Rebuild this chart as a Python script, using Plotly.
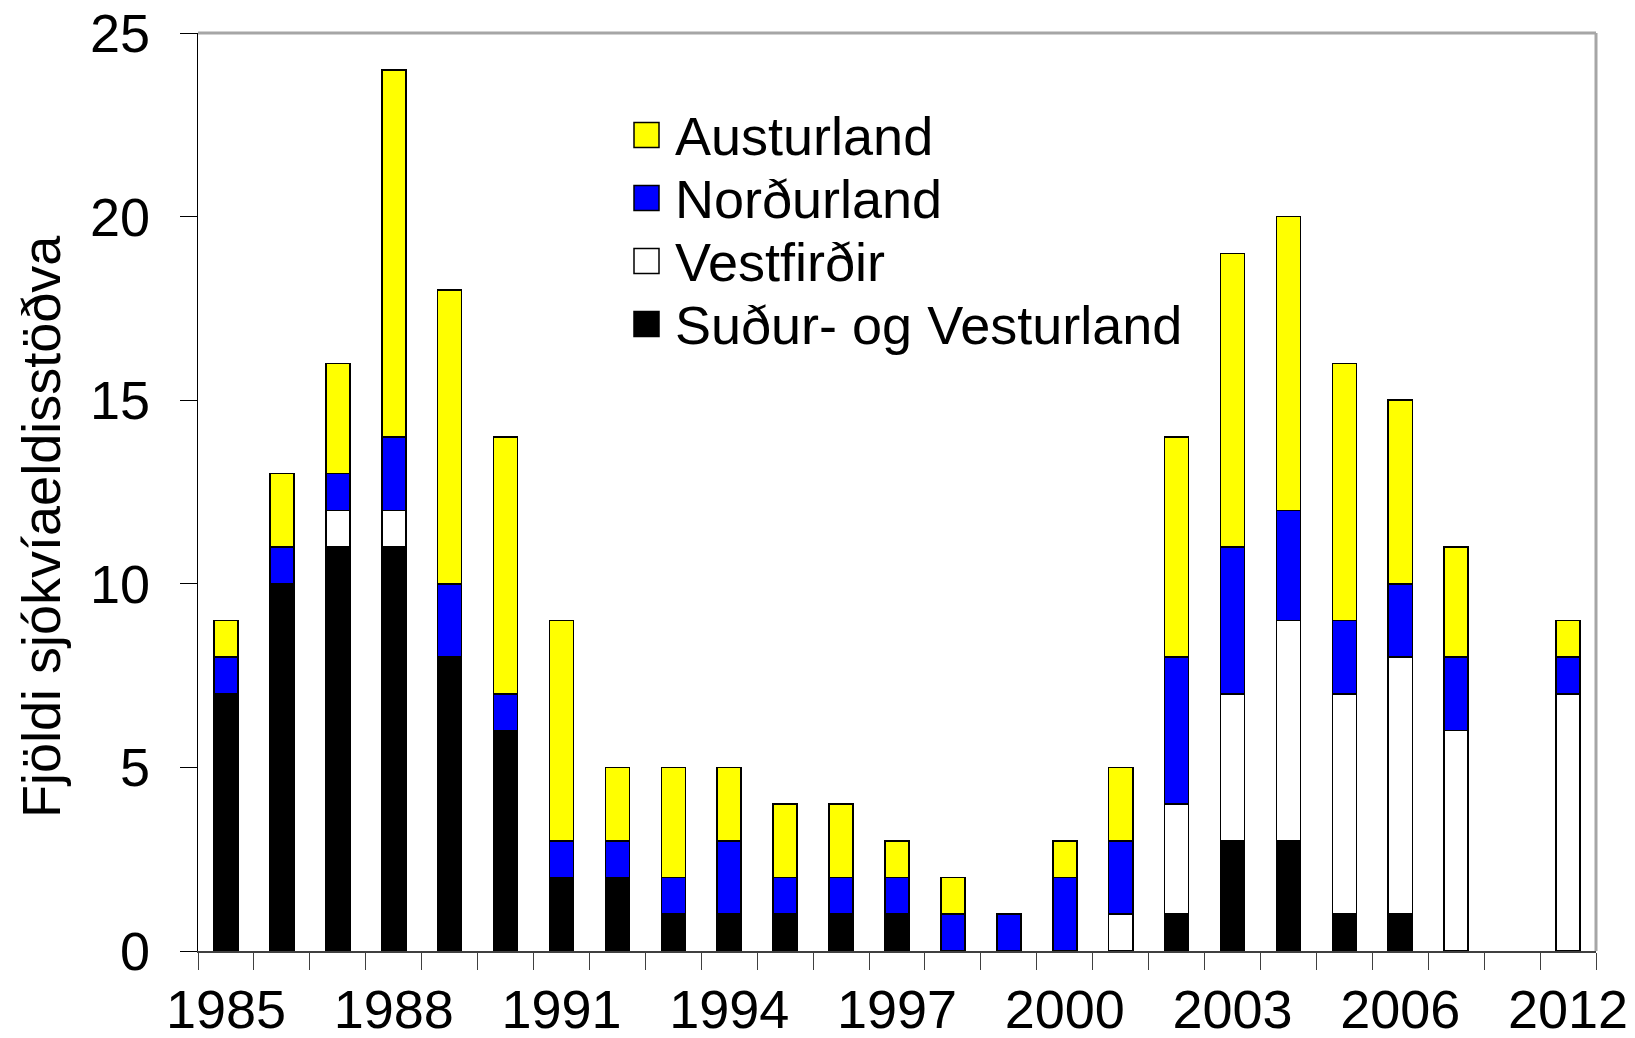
import plotly.graph_objects as go

years = ["1985", "1986", "1987", "1988", "1989", "1990", "1991", "1992", "1993",
         "1994", "1995", "1996", "1997", "1998", "1999", "2000", "2001", "2002",
         "2003", "2004", "2005", "2006", "2007", "2008", "2012"]
label_years = ["1985", "1988", "1991", "1994", "1997", "2000", "2003", "2006", "2012"]

sudur_vesturland = [7, 10, 11, 11, 8, 6, 2, 2, 1, 1, 1, 1, 1, 0, 0, 0, 0, 1, 3, 3, 1, 1, 0, 0, 0]
vestfirdir       = [0, 0, 1, 1, 0, 0, 0, 0, 0, 0, 0, 0, 0, 0, 0, 0, 1, 3, 4, 6, 6, 7, 6, 0, 7]
nordurland       = [1, 1, 1, 2, 2, 1, 1, 1, 1, 2, 1, 1, 1, 1, 1, 2, 2, 4, 4, 3, 2, 2, 2, 0, 1]
austurland       = [1, 2, 3, 10, 8, 7, 6, 2, 3, 2, 2, 2, 1, 1, 0, 1, 2, 6, 8, 8, 7, 5, 3, 0, 1]

series = [
    ("Suður- og Vesturland", sudur_vesturland, "#000000"),
    ("Vestfirðir", vestfirdir, "#ffffff"),
    ("Norðurland", nordurland, "#0000ff"),
    ("Austurland", austurland, "#ffff00"),
]

FONT = "Liberation Sans, Arial, sans-serif"
W, H = 1635, 1038
ML, MR, MT, MB = 198, 39, 33, 87
PW, PH = W - ML - MR, H - MT - MB


def px(xp, yp):
    """Pixel position on the page -> paper coordinates."""
    return (xp - ML) / PW, (H - MB - yp) / PH


pos = list(range(len(years)))

fig = go.Figure()
for name, vals, color in series:
    fig.add_trace(go.Bar(
        x=pos,
        y=[v if v else None for v in vals],
        name=name,
        showlegend=False,
        marker=dict(color=color, line=dict(color="#000000", width=1.6)),
        customdata=years,
        hovertemplate="%{customdata}: %{y}<extra>" + name + "</extra>",
    ))

tickvals = [years.index(y) for y in label_years]

shapes = [
    dict(type="line", xref="x domain", yref="y domain", x0=0, x1=1, y0=1, y1=1,
         line=dict(color="#a6a6a6", width=3)),
    dict(type="line", xref="x domain", yref="y domain", x0=1, x1=1, y0=0, y1=1,
         line=dict(color="#a6a6a6", width=3)),
]
annotations = [dict(
    text="Fjöldi sjókvíaeldisstöðva",
    xref="paper", yref="paper",
    x=px(41, 0)[0], y=px(0, 527)[1],
    xanchor="center", yanchor="middle",
    textangle=-90,
    showarrow=False,
    font=dict(size=54, family=FONT, color="#000000"),
)]
# Legend (text + swatches), top entry = top of stack
row_y = [135, 198, 261, 324]
for (name, vals, color), yc in zip(series[::-1], row_y):
    x0, y0 = px(634, yc - 12.5)
    x1, y1 = px(659, yc + 12.5)
    shapes.append(dict(type="rect", xref="paper", yref="paper",
                       x0=x0, x1=x1, y0=y1, y1=y0, fillcolor=color,
                       line=dict(color="#000000", width=1.5)))
    tx, ty = px(673, yc + 1)
    annotations.append(dict(text=name, xref="paper", yref="paper", x=tx, y=ty,
                            xanchor="left", yanchor="middle", showarrow=False,
                            font=dict(size=54, family=FONT, color="#000000")))

fig.update_layout(
    barmode="stack",
    bargap=0.57,
    width=W,
    height=H,
    margin=dict(l=ML, r=MR, t=MT, b=MB, autoexpand=False),
    paper_bgcolor="#ffffff",
    plot_bgcolor="#ffffff",
    font=dict(family=FONT, color="#000000", size=52),
    showlegend=False,
    xaxis=dict(
        range=[-0.5, 24.5],
        tickmode="array",
        tickvals=tickvals,
        ticktext=label_years,
        ticks="outside",
        ticklen=10,
        tickcolor="rgba(0,0,0,0)",
        ticklabelstandoff=0,
        tickfont=dict(size=54, family=FONT, color="#000000"),
        showgrid=False,
        zeroline=False,
        showline=True,
        linecolor="#404040",
        linewidth=2,
        automargin=False,
        minor=dict(tick0=-0.5, dtick=1, ticks="outside", ticklen=17,
                   tickcolor="#404040", tickwidth=1.3, showgrid=False),
    ),
    yaxis=dict(
        range=[0, 25],
        tickmode="linear",
        tick0=0,
        dtick=5,
        ticks="outside",
        ticklen=17,
        tickcolor="#000000",
        tickwidth=1.3,
        ticklabelstandoff=19,
        tickfont=dict(size=54, family=FONT, color="#000000"),
        showgrid=False,
        zeroline=False,
        showline=True,
        linecolor="#000000",
        linewidth=1.3,
        automargin=False,
    ),
    annotations=annotations,
    shapes=shapes,
)

fig.write_html(
    "out.html",
    config={"displayModeBar": False},
    post_script="document.body.style.margin='0';document.body.style.overflow='hidden';",
)
